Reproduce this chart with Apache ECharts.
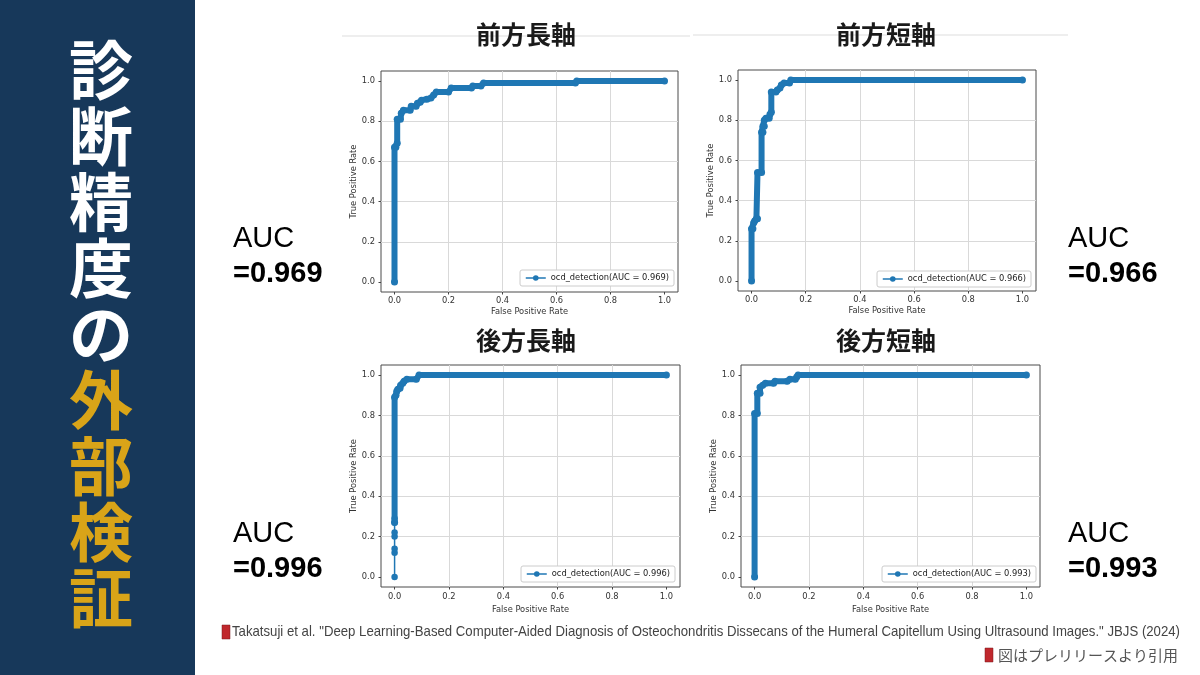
<!DOCTYPE html>
<html>
<head>
<meta charset="utf-8">
<title>診断精度の外部検証</title>
<script src="https://cdn.jsdelivr.net/npm/echarts@6/dist/echarts.min.js"></script>
<style>
  html, body { margin: 0; padding: 0; background: #fff; }
  #main { width: 1200px; height: 675px; }
</style>
</head>
<body>
<div id="main"></div>
<script type="text/javascript">
// 目盛り
var xTicks = [0, 0.2, 0.4, 0.6, 0.8, 1.0];
var yTicks = [0, 0.2, 0.4, 0.6, 0.8, 1.0];

// 各パネルのタイトルとAUC
var panelTitles = ['前方長軸', '前方短軸', '後方長軸', '後方短軸'];
var aucValues = ['0.969', '0.966', '0.996', '0.993'];

// ROC曲線
var antLongFpr = [0, 0, 0.005, 0.01, 0.01, 0.022, 0.025, 0.033, 0.058, 0.062, 0.08, 0.085, 0.095, 0.1, 0.12, 0.135, 0.145, 0.155, 0.2, 0.21, 0.285, 0.29, 0.32, 0.33, 0.67, 0.675, 1.0];
var antLongTpr = [0, 0.67, 0.67, 0.69, 0.81, 0.81, 0.84, 0.855, 0.855, 0.875, 0.875, 0.89, 0.895, 0.905, 0.91, 0.915, 0.93, 0.945, 0.945, 0.965, 0.965, 0.975, 0.975, 0.99, 0.99, 1.0, 1.0];

var antShortFpr = [0, 0, 0.005, 0.008, 0.012, 0.018, 0.022, 0.022, 0.037, 0.037, 0.042, 0.042, 0.047, 0.047, 0.053, 0.065, 0.068, 0.073, 0.073, 0.09, 0.095, 0.105, 0.11, 0.12, 0.14, 0.145, 1.0];
var antShortTpr = [0, 0.26, 0.26, 0.29, 0.30, 0.31, 0.31, 0.54, 0.54, 0.74, 0.74, 0.77, 0.77, 0.80, 0.81, 0.81, 0.83, 0.84, 0.94, 0.94, 0.95, 0.96, 0.975, 0.985, 0.985, 1.0, 1.0];

// 後方長軸: 下の方は点がまばら
var postLongLowFpr = [0, 0, 0, 0, 0, 0, 0];
var postLongLowTpr = [0, 0.12, 0.14, 0.2, 0.22, 0.27, 0.29];
var postLongFpr = [0, 0, 0.005, 0.008, 0.012, 0.02, 0.022, 0.03, 0.035, 0.045, 0.08, 0.09, 1.0];
var postLongTpr = [0.27, 0.89, 0.9, 0.92, 0.93, 0.935, 0.95, 0.96, 0.97, 0.98, 0.98, 1.0, 1.0];

var postShortFpr = [0, 0, 0.01, 0.01, 0.02, 0.02, 0.03, 0.04, 0.07, 0.075, 0.12, 0.13, 0.15, 0.155, 0.16, 1.0];
var postShortTpr = [0, 0.81, 0.81, 0.91, 0.91, 0.94, 0.95, 0.96, 0.96, 0.97, 0.97, 0.98, 0.98, 0.99, 1.0, 1.0];

var citation = 'Takatsuji et al. "Deep Learning-Based Computer-Aided Diagnosis of Osteochondritis Dissecans of the Humeral Capitellum Using Ultrasound Images." JBJS (2024)';
var sourceNote = '図はプレリリースより引用';

function zip(xs, ys) {
  var out = [];
  for (var i = 0; i < xs.length; i++) {
    out.push([xs[i], ys[i]]);
  }
  return out;
}

var curves = [
  zip(antLongFpr, antLongTpr),
  zip(antShortFpr, antShortTpr),
  zip(postLongFpr, postLongTpr),
  zip(postShortFpr, postShortTpr)
];

// レイアウト (プロット枠の位置)
var frames = [
  {left: 381, top: 71, width: 297, height: 221, titleX: 526, titleY: 34, xGap: 16, xMargin: 5, legendRight: 526, legendTop: 270},
  {left: 738, top: 70, width: 298, height: 221, titleX: 886, titleY: 34, xGap: 16, xMargin: 5, legendRight: 169, legendTop: 271},
  {left: 381, top: 365, width: 299, height: 222, titleX: 526, titleY: 340, xGap: 18.5, xMargin: 6, legendRight: 525, legendTop: 566},
  {left: 741, top: 365, width: 299, height: 222, titleX: 886, titleY: 340, xGap: 18.5, xMargin: 6, legendRight: 164, legendTop: 566}
];

var blue = '#1f77b4';
var plotFont = 'DejaVu Sans';

function tickFormatter(v) {
  if (Math.abs(v * 5 - Math.round(v * 5)) > 1e-6) return '';
  return v.toFixed(1);
}

var grids = [], xAxes = [], yAxes = [], legends = [], series = [];
for (var i = 0; i < 4; i++) {
  var f = frames[i];
  var legendName = 'ocd_detection(AUC = ' + aucValues[i] + ')';
  grids.push({
    left: f.left, top: f.top, width: f.width, height: f.height,
    show: true, backgroundColor: '#fff', borderColor: '#4a4a4a', borderWidth: 1
  });
  xAxes.push({
    type: 'value', gridIndex: i, min: -0.05, max: 1.05, splitNumber: 5,
    name: 'False Positive Rate', nameLocation: 'middle', nameGap: f.xGap,
    nameTextStyle: {fontSize: 8.3, color: '#333', fontFamily: plotFont},
    axisLine: {show: false, onZero: false},
    axisTick: {show: true, inside: false, length: 2.5, lineStyle: {color: '#444'}, customValues: xTicks},
    axisLabel: {fontSize: 8.3, color: '#333', fontFamily: plotFont, margin: f.xMargin,
      customValues: xTicks, formatter: tickFormatter},
    splitLine: {show: true, showMinLine: false, showMaxLine: false, lineStyle: {color: '#d9d9d9', width: 1}}
  });
  yAxes.push({
    type: 'value', gridIndex: i, min: -0.05, max: 1.05, splitNumber: 5,
    name: 'True Positive Rate', nameLocation: 'middle', nameGap: 22,
    nameTextStyle: {fontSize: 8.3, color: '#333', fontFamily: plotFont},
    axisLine: {show: false, onZero: false},
    axisTick: {show: true, inside: false, length: 2.5, lineStyle: {color: '#444'}, customValues: yTicks},
    axisLabel: {fontSize: 8.3, color: '#333', fontFamily: plotFont, margin: 6,
      customValues: yTicks, formatter: tickFormatter},
    splitLine: {show: true, showMinLine: false, showMaxLine: false, lineStyle: {color: '#d9d9d9', width: 1}}
  });
  legends.push({
    data: [legendName], right: f.legendRight, top: f.legendTop,
    selectedMode: false, backgroundColor: '#fff', borderColor: '#cccccc', borderWidth: 1,
    borderRadius: 2, padding: [4, 5], itemWidth: 20, itemHeight: 7, itemGap: 4,
    lineStyle: {width: 1.5},
    textStyle: {fontSize: 8.3, color: '#222', fontFamily: plotFont}
  });
  series.push({
    type: 'line', name: legendName, xAxisIndex: i, yAxisIndex: i,
    data: curves[i], symbol: 'circle', symbolSize: 7, showSymbol: true,
    lineStyle: {width: 6, color: blue}, itemStyle: {color: blue},
    z: 3, animation: false, silent: true
  });
}
// 後方長軸のまばらな下側部分
series.push({
  type: 'line', name: 'ocd_detection_low', xAxisIndex: 2, yAxisIndex: 2,
  data: zip(postLongLowFpr, postLongLowTpr), symbol: 'circle', symbolSize: 6.5,
  lineStyle: {width: 1.5, color: blue}, itemStyle: {color: blue},
  z: 3, animation: false, silent: true
});

// 引用文の幅を元の図に合わせる (細身の書体の代わりに横方向へ縮める)
var citeFont = '15px "Liberation Sans"';
var measureCtx = document.createElement('canvas').getContext('2d');
measureCtx.font = citeFont;
var citeScale = 948 / measureCtx.measureText(citation).width;

var graphics = [
  {type: 'rect', shape: {x: 0, y: 0, width: 195, height: 675}, style: {fill: '#17385a'}, z: -10},
  {type: 'text', x: 101, y: 37, style: {text: '診\n断\n精\n度\nの', fill: '#ffffff',
    font: 'bold 64px "Noto Sans CJK JP"', lineHeight: 66, align: 'center', verticalAlign: 'top'}},
  {type: 'text', x: 101, y: 367, style: {text: '外\n部\n検\n証', fill: '#d9a418',
    font: 'bold 64px "Noto Sans CJK JP"', lineHeight: 66, align: 'center', verticalAlign: 'top'}},
  {type: 'line', shape: {x1: 342, y1: 36, x2: 690, y2: 36}, style: {stroke: '#dddddd', lineWidth: 1}, z: -5},
  {type: 'line', shape: {x1: 693, y1: 35, x2: 1068, y2: 35}, style: {stroke: '#dddddd', lineWidth: 1}, z: -5}
];
for (var j = 0; j < 4; j++) {
  graphics.push({type: 'text', x: frames[j].titleX, y: frames[j].titleY,
    style: {text: panelTitles[j], fill: '#1a1a1a', font: 'bold 25px "Noto Sans CJK JP"',
      align: 'center', verticalAlign: 'middle'}});
}
var aucPos = [[233, 239], [1068, 239], [233, 534], [1068, 534]];
for (var k = 0; k < 4; k++) {
  graphics.push({type: 'text', x: aucPos[k][0], y: aucPos[k][1],
    style: {text: 'AUC', fill: '#000', font: '29px "Liberation Sans"', align: 'left', verticalAlign: 'middle'}});
  graphics.push({type: 'text', x: aucPos[k][0], y: aucPos[k][1] + 35,
    style: {text: '=' + aucValues[k], fill: '#000', font: 'bold 29px "Liberation Sans"', align: 'left', verticalAlign: 'middle'}});
}
// 引用
graphics.push({type: 'rect', shape: {x: 222, y: 625, width: 8, height: 14}, style: {fill: '#c0282d', stroke: '#7a1a1d', lineWidth: 0.5}});
graphics.push({type: 'text', x: 232, y: 632, scaleX: citeScale, style: {
  text: citation, fill: '#444', font: citeFont, align: 'left', verticalAlign: 'middle'}});
graphics.push({type: 'rect', shape: {x: 985, y: 648, width: 8, height: 14}, style: {fill: '#c0282d', stroke: '#7a1a1d', lineWidth: 0.5}});
graphics.push({type: 'text', x: 1178, y: 655, style: {
  text: sourceNote, fill: '#555', font: '15px "Noto Sans CJK JP"', align: 'right', verticalAlign: 'middle'}});

var chart = echarts.init(document.getElementById('main'), null, {renderer: 'canvas'});
chart.setOption({
  animation: false,
  backgroundColor: '#fff',
  grid: grids,
  xAxis: xAxes,
  yAxis: yAxes,
  legend: legends,
  series: series,
  graphic: graphics
});
</script>
</body>
</html>
